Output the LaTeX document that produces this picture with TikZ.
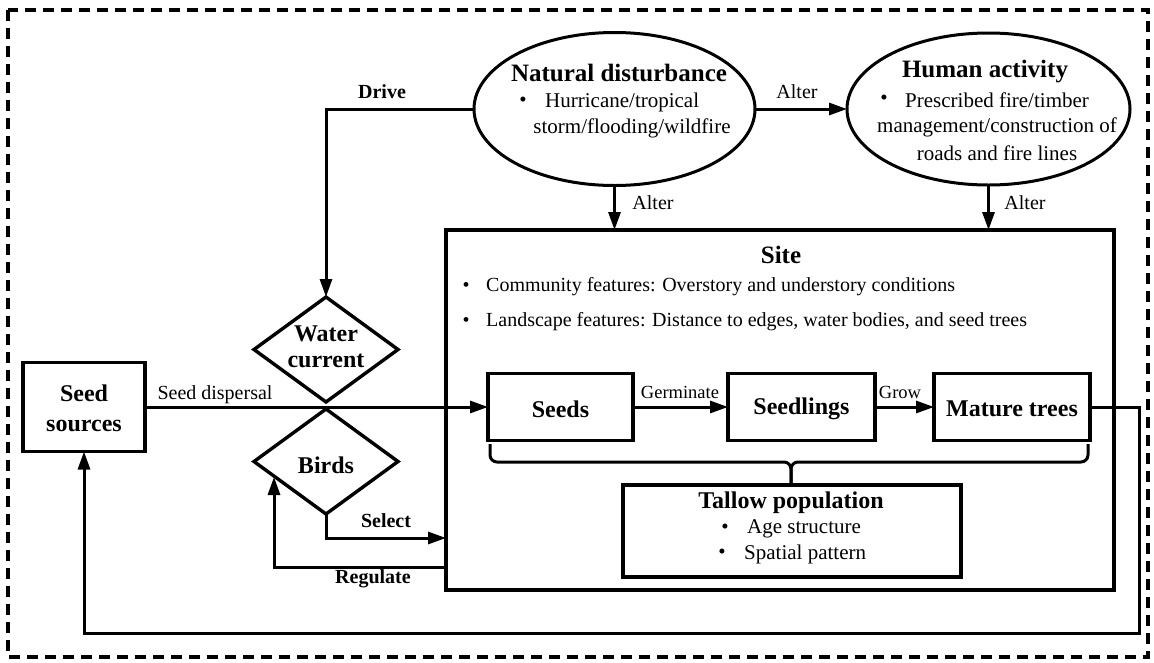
\documentclass[tikz,border=0pt]{standalone}
\usepackage{fontspec}
\setmainfont{Liberation Serif}
\usetikzlibrary{shapes.geometric,arrows.meta}
\begin{document}
\begin{tikzpicture}[x=1pt,y=-1pt,
  frame/.style={draw,line width=3.2pt,rectangle,inner sep=0pt,outer sep=0pt},
  oval/.style={draw,line width=3pt,ellipse,inner sep=0pt,outer sep=0pt},
  dia/.style={draw,line width=3.4pt,diamond,inner sep=0pt,outer sep=0pt,minimum width=144pt,minimum height=105pt},
  ln/.style={line width=3pt},
  arr/.style={line width=3pt,-{Triangle[length=18pt,width=12pt]}},
  bigb/.style={font=\fontsize{25}{30}\selectfont\bfseries,inner sep=0pt},
  boxb/.style={font=\fontsize{24}{29}\selectfont\bfseries,inner sep=0pt,align=center},
  body/.style={font=\fontsize{21}{26}\selectfont,inner sep=0pt},
  sitet/.style={font=\fontsize{20}{24}\selectfont,inner sep=0pt},
  lbl/.style={font=\fontsize{20}{24}\selectfont,inner sep=0pt},
  lblb/.style={font=\fontsize{20}{24}\selectfont\bfseries,inner sep=0pt},
  small/.style={font=\fontsize{18.5}{22}\selectfont,inner sep=0pt}]
\useasboundingbox (0,0) rectangle (1154,662);
% outer dashed frame
\draw[line width=3.2pt,dash pattern=on 11pt off 7pt] (8,10) rectangle (1148,657);

% ellipses
\node[oval,minimum width=281pt,minimum height=153pt] (nd) at (614.5,109) {};
\node[bigb] (ndt) at (619,73) {Natural disturbance};
\node[body] (ndb) at (523,102) {•};
\node[body,anchor=west] (nd1) at (545,102) {Hurricane/tropical};
\node[body] (nd2) at (632,128) {storm/flooding/wildfire};

\node[oval,minimum width=283pt,minimum height=152pt] (ha) at (988.5,109) {};
\node[bigb] (hat) at (985,72) {Human activity};
\node[body] (hab) at (884,100) {•};
\node[body,anchor=west] (ha1) at (905,100) {Prescribed fire/timber};
\node[body] (ha2) at (997,127) {management/construction of};
\node[body] (ha3) at (997,153) {roads and fire lines};

% site
\node[frame,minimum width=668pt,minimum height=360pt] (site) at (780,410) {};
\node[bigb] (sitet) at (781,255) {Site};
\node[sitet] (sb1) at (466,287) {•};
\node[sitet,anchor=west] (s1) at (486,287) {Community features: Overstory and understory conditions};
\node[sitet] (sb2) at (466,322) {•};
\node[sitet,anchor=west] (s2) at (486,322) {Landscape features: Distance to edges, water bodies, and seed trees};

% boxes
\node[frame,minimum width=122pt,minimum height=89pt] (ss) at (84,407) {};
\node[boxb] (sst) at (84,408) {Seed\\[1pt]sources};
\node[frame,minimum width=145pt,minimum height=67pt] (sd) at (560.5,407) {};
\node[boxb] (sdt) at (560.5,409) {Seeds};
\node[frame,minimum width=147pt,minimum height=67pt] (sl) at (801.5,407) {};
\node[boxb] (slt) at (801.5,409) {Seedlings};
\node[frame,minimum width=156pt,minimum height=67pt] (mt) at (1012,407) {};
\node[boxb] (mtt) at (1012,409) {Mature trees};
\node[frame,minimum width=338pt,minimum height=92pt] (tp) at (792,531) {};
\node[boxb] (tpt) at (791,503) {Tallow population};
\node[body] (tpb1) at (725,529) {•};
\node[body,anchor=west] (tp1) at (747,529) {Age structure};
\node[body] (tpb2) at (722,554) {•};
\node[body,anchor=west] (tp2) at (744,554) {Spatial pattern};

% diamonds
\node[dia] (wc) at (326,349.5) {};
\node[boxb] (wct) at (326,347) {Water\\[-3pt]current};
\node[dia] (bd) at (326,461.5) {};
\node[boxb] (bdt) at (326,465) {Birds};

% connectors
\draw[arr] (nd.west) -| (wc.north);
\node[lblb] (drive) at (382,92) {Drive};
\draw[arr] (nd.east) -- (ha.west);
\node[lbl] (alt1) at (797,92) {Alter};
\draw[arr] (nd.south) -- (nd.south |- site.north);
\node[lbl] (alt2) at (653,203) {Alter};
\draw[arr] (ha.south) -- (ha.south |- site.north);
\node[lbl] (alt3) at (1025,203) {Alter};

\draw[arr] (ss.east) -- (sd.west);
\node[lbl] (sdisp) at (215,395) {Seed dispersal};
\draw[arr] (sd.east) -- (sl.west);
\node[small] (germ) at (680,392) {Germinate};
\draw[arr] (sl.east) -- (mt.west);
\node[small] (grow) at (900,392) {Grow};

\coordinate (bsel) at (326,538);
\draw[arr] (bd.south) -- (bsel) -- (site.west |- bsel);
\node[lblb] (sel) at (386,521) {Select};
\coordinate (reg) at (274,567);
\coordinate (regtip) at (274,477);
\draw[arr] (site.west |- reg) -- (reg) -- (regtip);
\node[lblb] (regl) at (373,579) {Regulate};

\coordinate (fb) at (1139,633);
\draw[arr] (mt.east) -| (fb) -| (ss.south);

% brace
\draw[ln,rounded corners=7pt] (490,444) -- (490,462) -- (791,462) -- (791,483);
\draw[ln,rounded corners=7pt] (1088,444) -- (1088,462) -- (791,462) -- (791,483);
\end{tikzpicture}
\end{document}
